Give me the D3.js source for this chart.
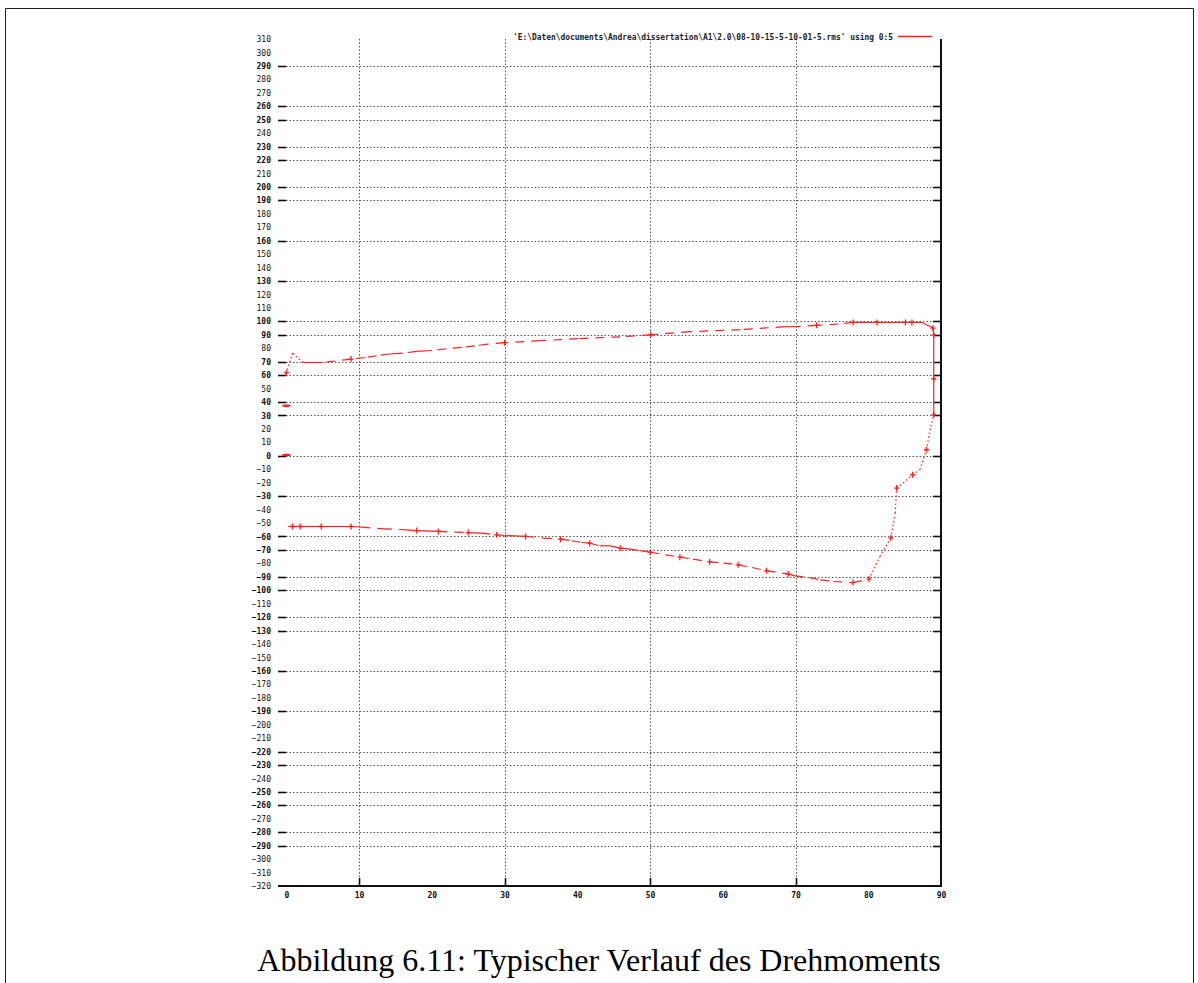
<!DOCTYPE html>
<html>
<head>
<meta charset="utf-8">
<script src="https://cdn.jsdelivr.net/npm/d3@7"></script>
<style>
  body { margin: 0; background: #fff; }
  svg { display: block; }
</style>
</head>
<body>
<div id="chart"></div>
<script>
// ------------- Data ----------------- //
const xTicks = [0, 10, 20, 30, 40, 50, 60, 70, 80, 90];
const yTicks = d3.range(-320, 311, 10);
// only these grid lines survived in the scan
const gridX = [10, 30, 50, 70];
const gridY = [290, 260, 250, 230, 220, 200, 190, 160, 130, 100, 90, 70, 60, 40, 30, 0,
  -30, -60, -70, -90, -100, -120, -130, -160, -190, -220, -230, -250, -260, -280, -290];

// [angle, torque, has marker]
const lowerBranch = [
  [0.25, -52.6, 0], [0.85, -52.6, 1], [1.9, -52.6, 1], [4.8, -52.6, 1], [8.9, -52.6, 1],
  [10.3, -53.1, 0], [13.3, -54.3, 0], [16.5, -55.1, 0], [17.9, -55.6, 1], [20.9, -56.3, 1],
  [25.0, -57.1, 1], [26.8, -57.5, 0], [28.9, -58.8, 1], [30.0, -59.3, 0], [32.9, -60.0, 1],
  [35.3, -61.2, 0], [37.7, -62.0, 1], [39.2, -63.2, 0], [40.6, -64.5, 0], [41.7, -65.0, 1],
  [43.1, -67.0, 0], [44.5, -67.0, 0], [45.9, -68.7, 1], [47.2, -69.4, 0], [48.6, -70.5, 0],
  [50.0, -71.7, 1], [52.1, -73.7, 0], [54.1, -75.4, 1], [55.9, -76.9, 0], [58.2, -78.9, 1],
  [60.1, -79.8, 0], [62.1, -81.1, 1], [64.0, -83.1, 0], [66.0, -85.6, 1], [69.0, -88.0, 1],
  [69.9, -89.3, 0], [71.9, -90.6, 0], [73.4, -92.3, 0], [75.2, -93.5, 0], [77.9, -94.3, 1],
  [80.1, -91.7, 1], [81.6, -74.9, 0], [83.1, -61.2, 1], [83.7, -42.6, 0], [83.9, -24.0, 1],
  [84.8, -20.3, 0], [86.1, -14.1, 1], [87.1, -10.4, 0], [88.0, 4.5, 1], [88.6, 21.8, 0],
  [89.0, 30.5, 1]
];
const upperBranch = [
  [89.0, 57.3, 1], [89.0, 90.0, 1], [88.9, 95.0, 1], [88.0, 97.5, 0], [87.4, 99.2, 0],
  [86.0, 99.2, 1], [85.1, 99.2, 1], [81.2, 99.2, 1], [77.9, 99.2, 1], [75.9, 98.0, 0],
  [72.9, 97.0, 1], [70.1, 96.0, 0], [68.5, 96.0, 0], [62.4, 93.8, 0], [55.5, 92.3, 0],
  [50.1, 90.0, 1], [45.9, 88.5, 0], [40.1, 87.1, 0], [34.9, 85.6, 0], [30.0, 84.1, 1],
  [27.7, 83.1, 0], [25.9, 81.8, 0], [24.1, 80.6, 0], [22.0, 79.6, 0], [20.0, 78.3, 0],
  [17.9, 77.6, 0], [16.0, 76.4, 0], [14.2, 75.7, 0], [12.4, 74.4, 0], [10.8, 73.1, 0],
  [8.9, 71.9, 1], [5.0, 69.4, 0], [2.3, 69.4, 0], [0.85, 76.4, 0], [0.0, 61.8, 1],
  [0.0, 60.5, 0]
];
const strayPoints = [[0, 37.2], [0, 0.5]];

const legendLabel = "'E:\\Daten\\documents\\Andrea\\dissertation\\A1\\2.0\\08-10-15-5-10-01-5.rms' using 0:5";
const caption = 'Abbildung 6.11: Typischer Verlauf des Drehmoments';

// ------------- Layout ----------------- //
const W = 1198, H = 983;
const plot = { left: 278, right: 941, top: 39, bottom: 886 };
const red = '#ff1f1f';
const tickFont = '"DejaVu Sans Mono", monospace';

const svg = d3.select('#chart').append('svg')
  .attr('width', W)
  .attr('height', H);

// page frame
svg.append('path')
  .attr('d', `M5.5,${H} V8.5 H1193.5 V${H}`)
  .attr('fill', 'none')
  .attr('stroke', '#222')
  .attr('stroke-width', 1);

const x = d3.scaleLinear().domain([-1.15, 90]).range([plot.left, plot.right]);
const y = d3.scaleLinear().domain([-320, 310]).range([plot.bottom, plot.top]);

// grid
svg.append('g').selectAll('line')
  .data(gridY)
  .join('line')
  .attr('x1', plot.left + 8).attr('x2', plot.right - 8)
  .attr('y1', d => Math.round(y(d)) + 0.5).attr('y2', d => Math.round(y(d)) + 0.5)
  .attr('stroke', '#555')
  .attr('stroke-dasharray', '1.5,2');

svg.append('g').selectAll('line')
  .data(gridX)
  .join('line')
  .attr('x1', d => Math.round(x(d)) + 0.5).attr('x2', d => Math.round(x(d)) + 0.5)
  .attr('y1', plot.top).attr('y2', plot.bottom - 8)
  .attr('stroke', '#555')
  .attr('stroke-dasharray', '1.5,2');

// tick marks on left / right / bottom
const tickG = svg.append('g').attr('stroke', '#111').attr('stroke-width', 1.6);
gridY.forEach(v => {
  const yy = Math.round(y(v)) + 0.5;
  tickG.append('line').attr('x1', plot.left).attr('x2', plot.left + 8).attr('y1', yy).attr('y2', yy);
  tickG.append('line').attr('x1', plot.right - 8).attr('x2', plot.right).attr('y1', yy).attr('y2', yy);
});
gridX.forEach(v => {
  const xx = Math.round(x(v)) + 0.5;
  tickG.append('line').attr('x1', xx).attr('x2', xx).attr('y1', plot.bottom - 8).attr('y2', plot.bottom);
});

// border: bottom and right survive in the scan
svg.append('path')
  .attr('d', `M${plot.left},${plot.bottom} H${plot.right} V${plot.top}`)
  .attr('fill', 'none')
  .attr('stroke', '#111')
  .attr('stroke-width', 2);

// y labels
const yAxis = d3.axisLeft(y).tickValues(yTicks).tickSize(0).tickPadding(0);
const yg = svg.append('g')
  .attr('transform', `translate(${plot.left - 7},0)`)
  .call(yAxis);
yg.select('.domain').remove();
yg.selectAll('.tick text')
  .attr('font-family', tickFont)
  .attr('font-size', 8)
  .attr('font-weight', d => gridY.includes(d) ? 'bold' : 'normal')
  .attr('fill', '#111');

// x labels
const xAxis = d3.axisBottom(x).tickValues(xTicks).tickSize(0).tickPadding(0);
const xg = svg.append('g')
  .attr('transform', `translate(0,${plot.bottom + 6})`)
  .call(xAxis);
xg.select('.domain').remove();
xg.selectAll('.tick text')
  .attr('font-family', tickFont)
  .attr('font-size', 8)
  .attr('font-weight', 'bold')
  .attr('fill', '#111');

// ------------- Series ----------------- //
const series = lowerBranch.concat(upperBranch);
const lineG = svg.append('g').attr('fill', 'none').attr('stroke', red).attr('stroke-width', 1.2);

for (let i = 1; i < series.length; i++) {
  const a = series[i - 1], b = series[i];
  const dx = Math.abs(x(b[0]) - x(a[0]));
  const dy = Math.abs(y(b[1]) - y(a[1]));
  // the scan breaks sloped lines into dashes and steep ones into dots
  let dash = null;
  if (dx >= 1 && dy >= 1) dash = dy / dx > 0.6 ? '1.5,2.5' : '9,7';
  lineG.append('path')
    .datum([a, b])
    .attr('d', d3.line().x(d => x(d[0])).y(d => y(d[1])))
    .attr('stroke-dasharray', dash);
}

svg.append('g').selectAll('path')
  .data(series.filter(d => d[2]))
  .join('path')
  .attr('transform', d => `translate(${x(d[0])},${y(d[1])})`)
  .attr('d', 'M-2.5,0H2.5M0,-3V3')
  .attr('stroke', red)
  .attr('stroke-width', 1.3);

svg.append('g').selectAll('path')
  .data(strayPoints)
  .join('path')
  .attr('transform', d => `translate(${x(d[0])},${y(d[1])})`)
  .attr('d', 'M-4,0H4M0,-1.5V1.5')
  .attr('stroke', red)
  .attr('stroke-width', 2);

// ------------- Legend ----------------- //
svg.append('text')
  .attr('x', 893)
  .attr('y', 37)
  .attr('text-anchor', 'end')
  .attr('dominant-baseline', 'middle')
  .attr('font-family', tickFont)
  .attr('font-size', 8)
  .attr('font-weight', 'bold')
  .attr('fill', '#222')
  .attr('textLength', 380)
  .attr('lengthAdjust', 'spacingAndGlyphs')
  .text(legendLabel);

svg.append('line')
  .attr('x1', 898).attr('x2', 932)
  .attr('y1', 36.5).attr('y2', 36.5)
  .attr('stroke', red)
  .attr('stroke-width', 1.5);

// ------------- Caption ----------------- //
svg.append('text')
  .attr('x', 599)
  .attr('y', 971)
  .attr('text-anchor', 'middle')
  .attr('font-family', '"Liberation Serif", "Times New Roman", serif')
  .attr('font-size', 32)
  .attr('fill', '#000')
  .text(caption);
</script>
</body>
</html>
